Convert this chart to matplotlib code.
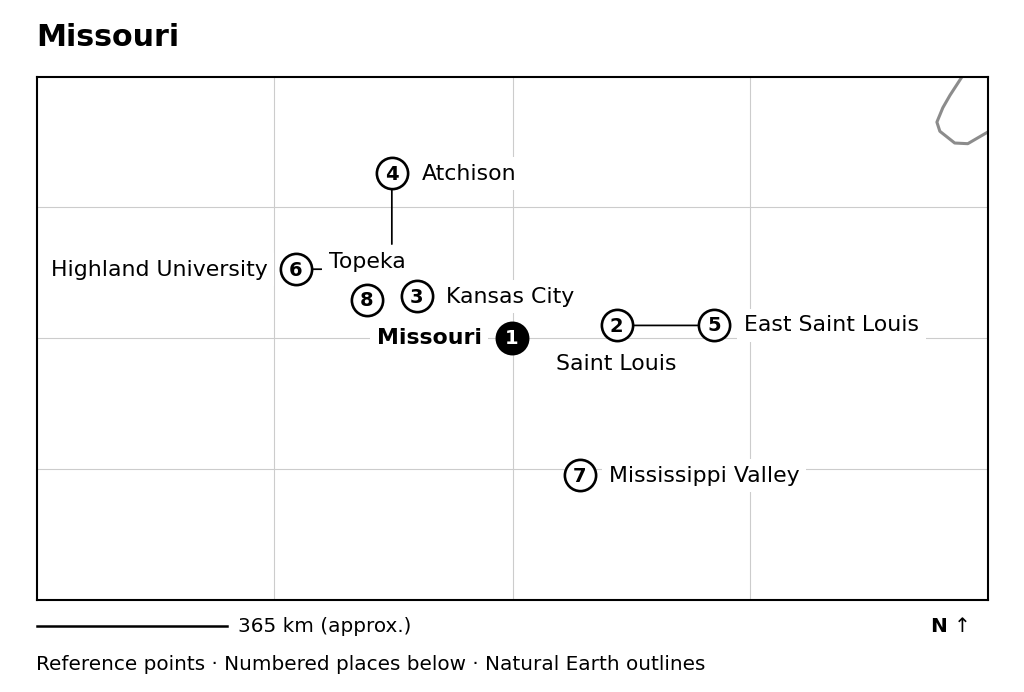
import matplotlib
matplotlib.use("Agg")
from matplotlib import pyplot as plt
from matplotlib.lines import Line2D

plt.rcParams['font.family'] = ['DejaVu Sans']

# place numbers and their positions
numbers = [1, 2, 3, 4, 5, 6, 7, 8]
lons = [-92.01, -90.25, -93.61, -94.03, -88.61, -95.65, -90.87, -94.45]
lats = [38.01, 38.2, 38.65, 40.53, 38.21, 39.06, 35.91, 38.59]
names = ['Missouri', 'Saint Louis', 'Kansas City', 'Atchison', 'East Saint Louis',
         'Highland University', 'Mississippi Valley', 'Topeka']

# outline in the top right corner
coast_lon = [-84.44, -84.64, -84.76, -84.86, -84.81, -84.56, -84.34, -84.0]
coast_lat = [42.0, 41.72, 41.53, 41.31, 41.17, 40.99, 40.98, 41.16]

grid_lon = [-96.01, -92, -88]
grid_lat = [36, 38.01, 40.01]

# label offset from the marker in pixels, and alignment
label_pos = {
    1: (-30, 1.5, 'right'),
    2: (0, -36.5, 'center'),
    3: (29, 1.5, 'left'),
    4: (30, 1.5, 'left'),
    5: (30, 1.5, 'left'),
    6: (-28, 1.5, 'right'),
    7: (29, 1.5, 'left'),
    8: (0, 40, 'center'),
}
# leader line ends, pixels from the marker
leaders = {2: (81, 0), 4: (0, -71), 6: (26, 0)}

fig = plt.figure(figsize=(10.24, 6.92), dpi=100)
ax = fig.add_axes([37 / 1024, 1 - 600 / 692, 951 / 1024, 523 / 692])
ax.set_xlim(-100, -84)
ax.set_ylim(34, 42)
ax.set_xticks(grid_lon)
ax.set_yticks(grid_lat)
ax.tick_params(length=0, labelbottom=False, labelleft=False)
ax.grid(color='#cccccc', lw=0.8)
ax.set_axisbelow(True)
for s in ax.spines.values():
    s.set_linewidth(1.5)

ax.plot(coast_lon, coast_lat, color='#8c8c8c', lw=2.2, zorder=2)

for i, n in enumerate(numbers):
    xy = (lons[i], lats[i])
    if n in leaders:
        ax.annotate('', xy=xy, xytext=leaders[n], textcoords='offset pixels',
                    arrowprops=dict(arrowstyle='-', color='black', lw=1.25,
                                    shrinkA=0, shrinkB=0), zorder=3)
    first = n == 1
    ax.plot(*xy, 'o', ms=22.5, mfc='black' if first else 'white', mec='black', mew=1.9, zorder=4)
    ax.annotate(str(n), xy=xy, xytext=(0, 1), textcoords='offset pixels',
                color='white' if first else 'black', ha='center', va='center_baseline',
                fontsize=14, fontweight='bold', zorder=5)
    dx, dy, ha = label_pos[n]
    ax.annotate(names[i], xy=xy, xytext=(dx, dy), textcoords='offset pixels', ha=ha, va='center_baseline',
                fontsize=15.8, fontweight='bold' if first else 'normal', zorder=3.5,
                bbox=dict(boxstyle='square,pad=0.3', fc='white', ec='none'))

fig.text(36 / 1024, 1 - 34 / 692, 'Missouri', fontsize=21.7, fontweight='bold', va='center_baseline')
fig.add_artist(Line2D([37 / 1024, 227 / 1024], [1 - 626 / 692, 1 - 626 / 692], color='black', lw=1.8))
fig.text(238 / 1024, 1 - 624 / 692, '365 km (approx.)', fontsize=14.4, va='center_baseline')
fig.text(930 / 1024, 1 - 624 / 692, 'N', fontsize=14.4, fontweight='bold', va='center_baseline')
fig.text(954 / 1024, 1 - 624 / 692, '↑', fontsize=14.4, va='center_baseline')
fig.text(36 / 1024, 1 - 662.5 / 692, 'Reference points · Numbered places below · Natural Earth outlines',
         fontsize=14.4, va='center_baseline')

fig.savefig('out.png', dpi=100)
